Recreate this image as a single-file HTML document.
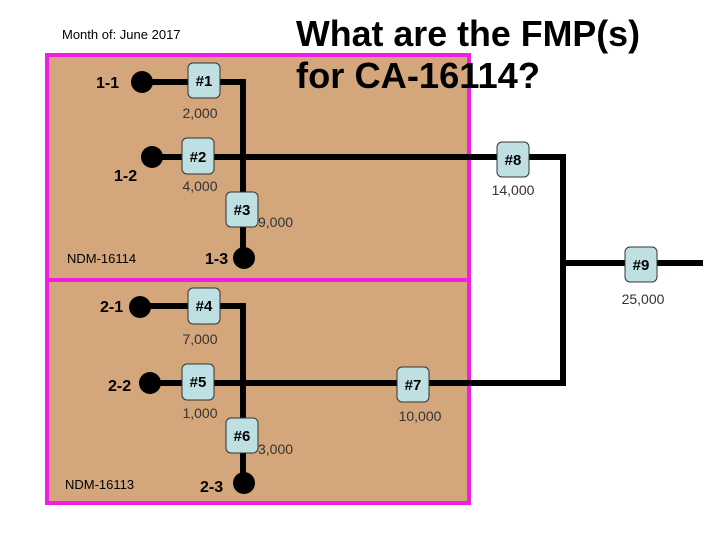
<!DOCTYPE html>
<html><head><meta charset="utf-8"><style>html,body{margin:0;padding:0;background:#fff}svg{display:block}</style></head><body>
<svg width="720" height="540" xmlns="http://www.w3.org/2000/svg" font-family="Liberation Sans, Arial, sans-serif">
<rect x="0" y="0" width="720" height="540" fill="#fff"/>
<rect x="47" y="55" width="422" height="225" fill="#d3a67b" stroke="#f020e0" stroke-width="4"/>
<rect x="47" y="280" width="422" height="223" fill="#d3a67b" stroke="#f020e0" stroke-width="4"/>
<text x="62" y="39" font-size="13" fill="#000">Month of: June 2017</text>
<text x="296" y="46" font-size="36" font-weight="bold" textLength="344" lengthAdjust="spacingAndGlyphs">What are the FMP(s)</text>
<text x="296" y="88" font-size="36" font-weight="bold" textLength="244" lengthAdjust="spacingAndGlyphs">for CA-16114?</text>
<g stroke="#000" stroke-width="6" fill="none">
<polyline points="142,82 243,82 243,258"/>
<polyline points="152,157 563,157 563,383 150,383"/>
<line x1="563" y1="263" x2="703" y2="263"/>
<polyline points="140,306 243,306 243,483"/>
</g>
<g fill="#000">
<circle cx="142" cy="82" r="11"/><circle cx="152" cy="157" r="11"/><circle cx="244" cy="258" r="11"/>
<circle cx="140" cy="307" r="11"/><circle cx="150" cy="383" r="11"/><circle cx="244" cy="483" r="11"/>
</g>
<g fill="#bfe0e3" stroke="#333" stroke-width="1">
<rect x="188" y="63" width="32" height="35" rx="5"/>
<rect x="182" y="138" width="32" height="36" rx="5"/>
<rect x="226" y="192" width="32" height="35" rx="5"/>
<rect x="497" y="142" width="32" height="35" rx="5"/>
<rect x="625" y="247" width="32" height="35" rx="5"/>
<rect x="188" y="288" width="32" height="36" rx="5"/>
<rect x="182" y="364" width="32" height="36" rx="5"/>
<rect x="226" y="418" width="32" height="35" rx="5"/>
<rect x="397" y="367" width="32" height="35" rx="5"/>
</g>
<g font-size="15" font-weight="bold" text-anchor="middle" fill="#000">
<text x="204" y="86">#1</text><text x="198" y="162">#2</text><text x="242" y="215">#3</text>
<text x="513" y="165">#8</text><text x="641" y="270">#9</text>
<text x="204" y="311">#4</text><text x="198" y="387">#5</text><text x="242" y="441">#6</text>
<text x="413" y="390">#7</text>
</g>
<g font-size="14" fill="#333" text-anchor="middle">
<text x="200" y="118">2,000</text><text x="200" y="191">4,000</text><text x="513" y="195">14,000</text>
<text x="643" y="304">25,000</text><text x="200" y="344">7,000</text><text x="200" y="418">1,000</text>
<text x="420" y="421">10,000</text>
</g>
<g font-size="14" fill="#333">
<text x="258" y="227">9,000</text><text x="258" y="454">3,000</text>
</g>
<g font-size="16" font-weight="bold" fill="#000">
<text x="96" y="88">1-1</text><text x="114" y="181">1-2</text><text x="205" y="264">1-3</text>
<text x="100" y="312">2-1</text><text x="108" y="391">2-2</text><text x="200" y="492">2-3</text>
</g>
<g font-size="13" fill="#000">
<text x="67" y="263">NDM-16114</text><text x="65" y="489">NDM-16113</text>
</g>
</svg>
</body></html>
